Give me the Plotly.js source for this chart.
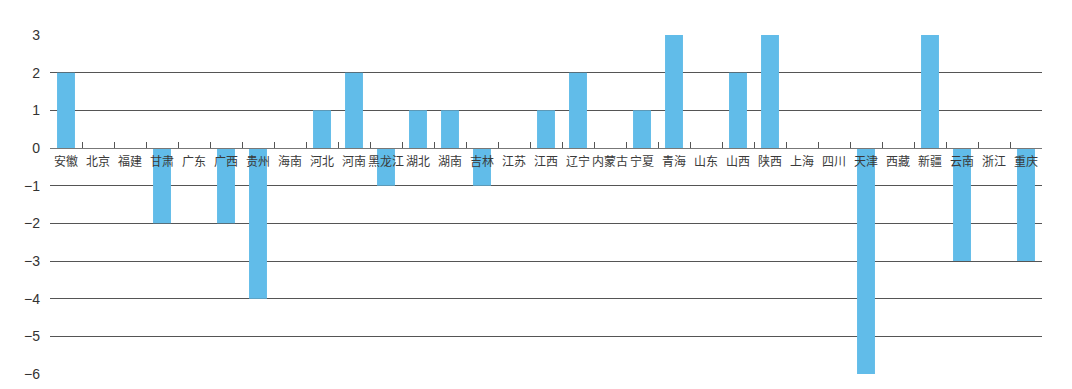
<!DOCTYPE html>
<html>
<head>
<meta charset="utf-8">
<script src="https://cdn.plot.ly/plotly-3.0.1.min.js"></script>
<style>html,body{margin:0;padding:0;background:#fff;}#chart{width:1072px;height:389px;}</style>
</head>
<body>
<div id="chart"></div>
<script>
var provinces = ["安徽","北京","福建","甘肃","广东","广西","贵州","海南","河北","河南","黑龙江","湖北","湖南","吉林","江苏","江西","辽宁","内蒙古","宁夏","青海","山东","山西","陕西","上海","四川","天津","西藏","新疆","云南","浙江","重庆"];
var values = [2,0,0,-2,0,-2,-4,0,1,2,-1,1,1,-1,0,1,2,0,1,3,0,2,3,0,0,-6,0,3,-3,0,-3];
var yTicks = [3,2,1,0,-1,-2,-3,-4,-5,-6];

var yMin = -6, yMax = 3;
var trace = {
  type: 'bar',
  x: provinces,
  y: values,
  marker: {color: '#61bce9', line: {width: 0}},
  hoverinfo: 'x+y'
};
var layout = {
  width: 1072, height: 389,
  margin: {l: 50, r: 30, t: 35, b: 15, pad: 0},
  paper_bgcolor: '#fff', plot_bgcolor: '#fff',
  showlegend: false,
  bargap: 0.44,
  font: {family: 'Liberation Sans, Arial, sans-serif', color: '#333'},
  xaxis: {
    type: 'category',
    anchor: 'free',
    position: (0 - yMin) / (yMax - yMin),
    showgrid: false,
    showline: true, linecolor: '#777', linewidth: 1,
    ticks: 'inside', tickson: 'boundaries', ticklen: 6, tickcolor: '#555', tickwidth: 1,
    ticklabelposition: 'outside',
    ticklabelstandoff: 3,
    tickfont: {family: 'Noto Sans CJK SC, sans-serif', size: 12, color: '#3a3a3a'},
    tickangle: 0,
    fixedrange: true
  },
  yaxis: {
    range: [yMin, yMax],
    tickmode: 'array', tickvals: yTicks,
    showgrid: true, gridcolor: '#555', gridwidth: 1,
    zeroline: false,
    showline: false,
    ticks: '',
    tickfont: {family: 'Liberation Sans, Arial, sans-serif', size: 14, color: '#333'},
    ticklabelstandoff: 9,
    fixedrange: true
  }
};
Plotly.newPlot('chart', [trace], layout, {displayModeBar: false, staticPlot: true});
</script>
</body>
</html>
